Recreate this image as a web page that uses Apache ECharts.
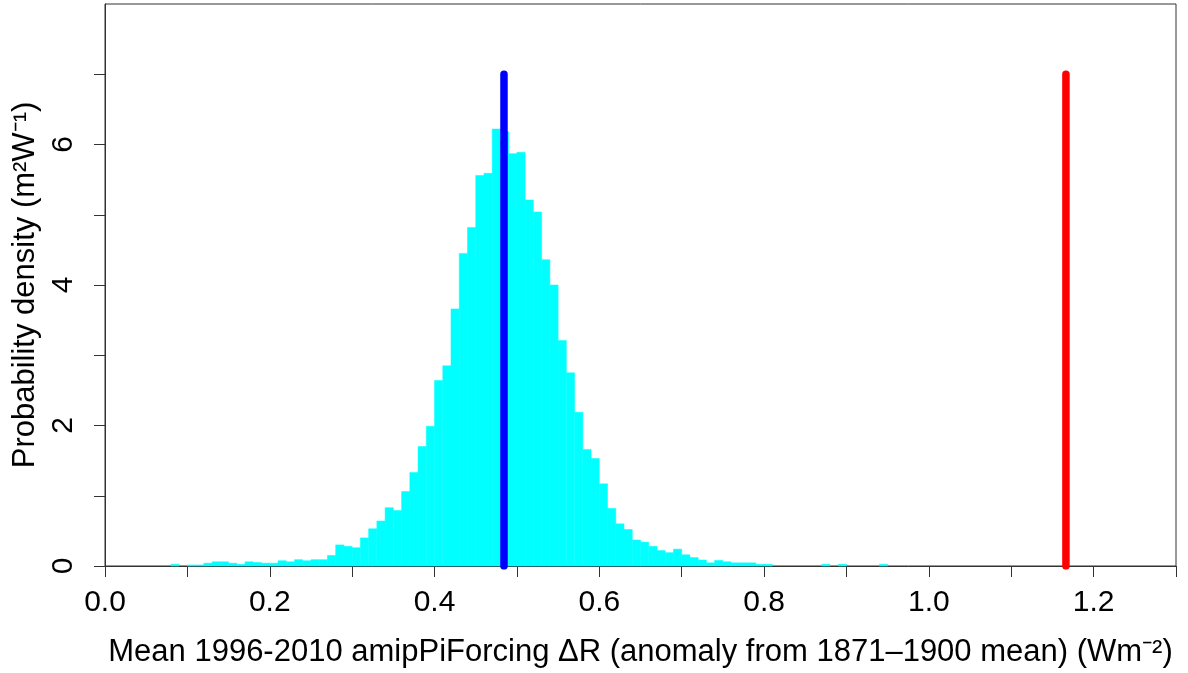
<!DOCTYPE html>
<html>
<head>
<meta charset="utf-8">
<script src="https://cdn.jsdelivr.net/npm/echarts@6/dist/echarts.min.js"></script>
<style>
html,body{margin:0;padding:0;background:#fff;}
#chart{width:1188px;height:673px;}
</style>
</head>
<body>
<div id="chart"></div>
<script>
// Histogram bin left edges (bin width 0.01)
const binLeft = [0.08,0.09,0.10,0.11,0.12,0.13,0.14,0.15,0.16,0.17,0.18,0.19,0.20,0.21,0.22,0.23,0.24,0.25,0.26,0.27,
  0.28,0.29,0.30,0.31,0.32,0.33,0.34,0.35,0.36,0.37,0.38,0.39,0.40,0.41,0.42,0.43,0.44,0.45,0.46,0.47,
  0.48,0.49,0.50,0.51,0.52,0.53,0.54,0.55,0.56,0.57,0.58,0.59,0.60,0.61,0.62,0.63,0.64,0.65,0.66,0.67,
  0.68,0.69,0.70,0.71,0.72,0.73,0.74,0.75,0.76,0.77,0.78,0.79,0.80,0.81,0.82,0.83,0.84,0.85,0.86,0.87,
  0.88,0.89,0.90,0.91,0.92,0.93,0.94];
const binWidth = 0.01;
// Probability density per bin
const density = [0.025,0,0.015,0.015,0.04,0.06,0.06,0.04,0.025,0.06,0.05,0.04,0.04,0.075,0.06,0.09,0.075,0.09,0.09,0.15,
  0.30,0.28,0.26,0.40,0.53,0.64,0.83,0.79,1.06,1.33,1.70,1.99,2.64,2.85,3.66,4.45,4.82,5.56,5.59,6.22,
  6.18,5.87,5.89,5.21,5.04,4.36,4.00,3.21,2.75,2.19,1.66,1.53,1.17,0.82,0.60,0.52,0.37,0.34,0.28,0.22,
  0.19,0.24,0.16,0.12,0.085,0.045,0.08,0.06,0.045,0.045,0.045,0.025,0.025,0,0,0,0,0,0,0.025,
  0,0.025,0,0,0,0,0.025];
// Vertical reference lines
const blueLineX = 0.4843;
const redLineX = 1.1664;
const lineTop = 7;
// Axis ticks / labels
const xTicks = [0,0.1,0.2,0.3,0.4,0.5,0.6,0.7,0.8,0.9,1.0,1.1,1.2,1.3];
const xLabels = [0,0.2,0.4,0.6,0.8,1.0,1.2];
const yTicks = [0,1,2,3,4,5,6,7];
const yLabels = [0,2,4,6];

const histData = binLeft.map((l,i)=>[l, l+binWidth, density[i]]).filter(d=>d[2]>0);

const FONT = 'Liberation Sans, Arial, sans-serif';
const chart = echarts.init(document.getElementById('chart'), null, {renderer:'canvas'});
chart.setOption({
  animation:false,
  backgroundColor:'#ffffff',
  grid:{left:105, right:12, top:4, bottom:107, show:true, borderColor:'#333', borderWidth:1, containLabel:false, outerBoundsMode:'none'},
  xAxis:{
    type:'value', min:0, max:1.3,
    name:'Mean 1996-2010 amipPiForcing ΔR (anomaly from 1871–1900 mean) (Wm⁻²)',
    nameLocation:'middle', nameGap:71,
    nameTextStyle:{fontFamily:FONT, fontSize:31, color:'#000'},
    axisLine:{show:true, onZero:false, lineStyle:{color:'#333', width:1}},
    axisTick:{show:true, length:11, customValues:xTicks, lineStyle:{color:'#333', width:1}},
    axisLabel:{customValues:xLabels, margin:22, fontFamily:FONT, fontSize:30, color:'#000',
      formatter:v=>Number(v).toFixed(1)},
    splitLine:{show:false}
  },
  yAxis:{
    type:'value', min:0, max:8,
    name:'Probability density (m²W⁻¹)',
    nameLocation:'middle', nameGap:58, nameRotate:90,
    nameTextStyle:{fontFamily:FONT, fontSize:31, color:'#000'},
    axisLine:{show:true, onZero:false, lineStyle:{color:'#333', width:1}},
    axisTick:{show:true, length:11, customValues:yTicks, lineStyle:{color:'#333', width:1}},
    axisLabel:{customValues:yLabels, rotate:90, margin:26, fontFamily:FONT, fontSize:30, color:'#000'},
    splitLine:{show:false}
  },
  series:[
    {
      type:'custom',
      data:histData,
      encode:{x:[0,1], y:2},
      renderItem:function(params, api){
        const p0 = api.coord([api.value(0), api.value(2)]);
        const p1 = api.coord([api.value(1), 0]);
        return {type:'rect', shape:{x:p0[0], y:p0[1], width:p1[0]-p0[0], height:p1[1]-p0[1]},
          style:{fill:'#00FFFF', stroke:'#00FFFF', lineWidth:0.5}};
      },
      z:2
    },
    {
      type:'line', data:[[blueLineX,0],[blueLineX,lineTop]], symbol:'none',
      lineStyle:{color:'#0000FF', width:7.5, cap:'round'}, z:5
    },
    {
      type:'line', data:[[redLineX,0],[redLineX,lineTop]], symbol:'none',
      lineStyle:{color:'#FF0000', width:7.5, cap:'round'}, z:5
    }
  ]
});
</script>
</body>
</html>
